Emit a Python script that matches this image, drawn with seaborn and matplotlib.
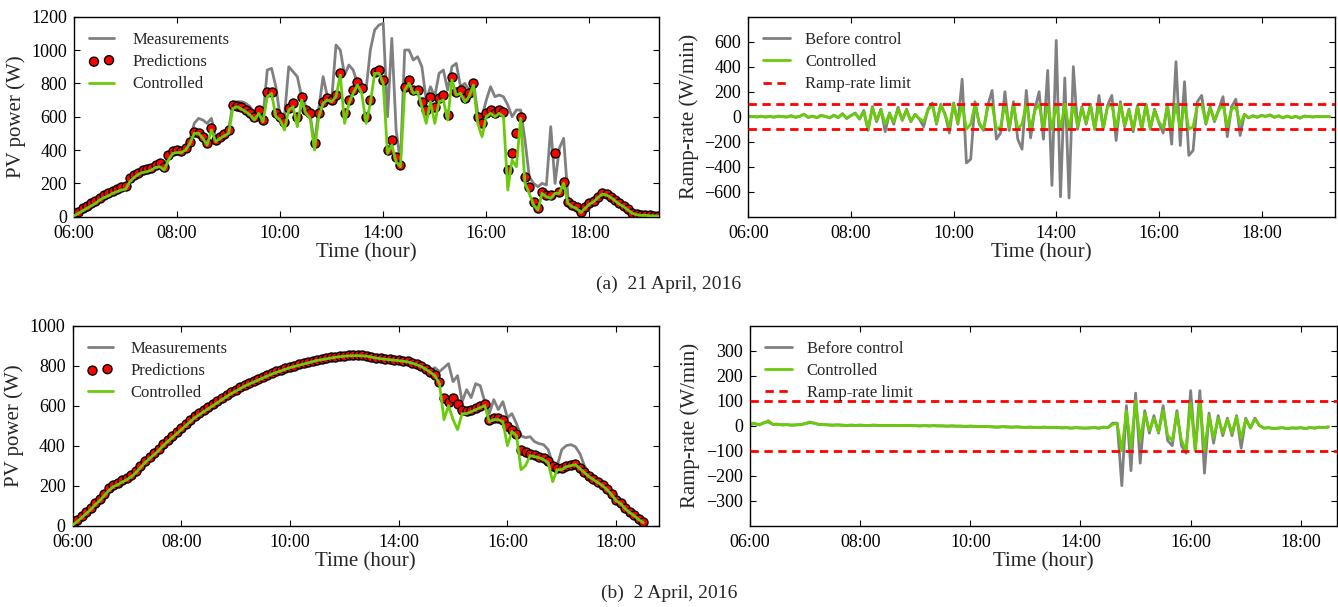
import numpy as np
import matplotlib
matplotlib.use("Agg")
import matplotlib.pyplot as plt
import seaborn as sns

# ---- datos (cada 5 minutos desde las 06:00) ----
t_a = np.arange(0, 681, 5)
t_b = np.arange(0, 631, 5)

tick_pos = [0, 120, 240, 360, 480, 600]
tick_lab = ["06:00", "08:00", "10:00", "14:00", "16:00", "18:00"]

# (a) 21 April
meas_a = [10, 30, 45, 60, 80, 95, 115, 130, 145, 155,
          165, 180, 185, 230, 255, 270, 280, 290, 300, 315,
          320, 300, 375, 395, 400, 400, 415, 460, 560, 590,
          580, 560, 590, 470, 490, 500, 520, 680, 690, 690,
          680, 660, 620, 650, 590, 880, 890, 780, 600, 600,
          900, 870, 840, 720, 660, 610, 430, 650, 840, 720,
          700, 1030, 1000, 850, 910, 880, 800, 790, 760, 1000,
          1120, 1150, 1160, 600, 1070, 520, 320, 1000, 1000, 940,
          960, 900, 700, 780, 720, 860, 880, 760, 900, 920,
          780, 800, 760, 810, 620, 600, 700, 780, 720, 730,
          720, 670, 600, 640, 640, 460, 240, 200, 180, 200,
          190, 540, 200, 410, 470, 120, 70, 60, 30, 60,
          80, 95, 120, 140, 135, 120, 100, 80, 65, 45,
          25, 15, 10, 10, 8, 6, 5]
pred_a = [15, 30, 50, 65, 80, 95, 115, 130, 145, 155,
          165, 180, 185, 230, 250, 265, 280, 285, 295, 310,
          320, 300, 370, 395, 400, 395, 410, 450, 510, 505,
          480, 440, 530, 460, 480, 495, 520, 670, 665, 660,
          640, 620, 600, 640, 580, 750, 750, 620, 600, 570,
          650, 680, 600, 720, 640, 620, 440, 620, 690, 710,
          700, 730, 860, 620, 700, 760, 810, 770, 600, 700,
          870, 880, 820, 400, 460, 360, 310, 780, 820, 760,
          760, 690, 640, 720, 660, 710, 730, 610, 840, 750,
          760, 710, 740, 800, 600, 560, 620, 640, 620, 640,
          630, 280, 380, 500, 600, 240, 180, 90, 50, 150,
          130, 130, 380, 150, 210, 90, 70, 60, 30, 60,
          80, 95, 120, 140, 135, 120, 100, 80, 65, 45,
          25, 15, 10, 10, 8, 6, 5]
ctrl_a = [5, 20, 35, 50, 65, 80, 100, 115, 125, 140,
          150, 160, 165, 210, 235, 255, 265, 270, 280, 295,
          300, 280, 340, 380, 385, 385, 400, 440, 500, 500,
          470, 430, 520, 450, 470, 485, 500, 650, 660, 645,
          630, 610, 580, 620, 570, 720, 740, 600, 580, 520,
          640, 660, 540, 700, 620, 590, 400, 600, 680, 700,
          690, 720, 850, 560, 680, 740, 790, 740, 560, 680,
          860, 860, 800, 380, 430, 330, 300, 760, 800, 740,
          750, 660, 560, 690, 560, 690, 700, 580, 820, 730,
          740, 690, 720, 790, 560, 480, 600, 620, 600, 620,
          600, 160, 340, 300, 590, 200, 140, 70, 40, 140,
          120, 110, 140, 140, 200, 80, 60, 50, 25, 50,
          75, 90, 115, 135, 130, 115, 95, 75, 60, 40,
          20, 12, 8, 8, 6, 5, 3]
ramp_before_a = [0, 3, -2, 4, -3, 2, -4, 5, 0, -3,
                 8, -5, 3, 20, -6, 5, -8, 10, 3, -10,
                 12, -8, 25, -15, 10, 30, -20, 50, -110, 80,
                 -40, 60, -120, 30, -60, 75, -30, 60, -40, 20,
                 -20, -80, 60, 110, -60, 100, 20, -130, 110, -60,
                 300, -370, -340, 120, -60, -110, 90, 210, -180, -130,
                 200, -110, 120, -180, -260, 210, -170, 60, 200, -180,
                 370, -550, 610, -640, 310, -650, 400, -100, 80, -60,
                 100, -100, 170, -100, 90, 170, -190, 120, -80, 60,
                 -120, 90, -100, 100, -100, 60, -50, -130, 100, -220,
                 440, -230, 280, -310, -270, 120, 170, -60, 80, -40,
                 60, 160, -160, 80, 140, -150, 20, -10, 8, -5,
                 10, 3, 15, -5, 8, -10, 5, -8, 3, -12,
                 5, 2, -3, 2, 0, 1, 0]
ramp_ctrl_a = [0, 2, -2, 3, -2, 2, -3, 4, 0, -2,
               6, -4, 3, 18, -5, 4, -6, 8, 2, -8,
               10, -6, 20, -12, 8, 25, -15, 40, -100, 70,
               -30, 55, -60, 25, -40, 60, -25, 50, -35, 15,
               -15, -40, 50, 100, -50, 90, 15, -80, 100, -50,
               100, -100, -60, 100, -50, -100, 80, 100, -100, -80,
               100, -90, 100, -100, -60, 100, -100, 50, 100, -100,
               100, -100, 100, -100, 100, -100, 100, -80, 70, -50,
               90, -100, 100, -90, 80, 100, -100, 100, -70, 50,
               -100, 80, -100, 100, -90, 50, -40, -90, 80, -100,
               100, -100, 100, -100, -80, 90, 100, -50, 70, -30,
               50, 100, -80, 60, 80, -60, 15, -8, 6, -4,
               8, 2, 12, -4, 6, -8, 4, -6, 2, -10,
               4, 2, -2, 1, 0, 1, 0]

# (b) 2 April
pred_b = [10, 30, 50, 70, 90, 115, 135, 160, 190, 205,
          215, 228, 240, 255, 275, 300, 325, 345, 365, 385,
          410, 430, 450, 470, 490, 510, 530, 550, 565, 580,
          595, 610, 625, 640, 655, 668, 680, 692, 705, 715,
          725, 735, 745, 755, 765, 772, 780, 788, 795, 800,
          806, 812, 818, 824, 830, 834, 838, 842, 845, 848,
          850, 852, 853, 852, 852, 850, 845, 840, 838, 835,
          833, 830, 828, 825, 822, 815, 808, 798, 785, 770,
          755, 720, 640, 620, 640, 610, 580, 575, 580, 590,
          600, 610, 530, 540, 540, 530, 500, 480, 460, 380,
          370, 360, 355, 345, 340, 325, 300, 290, 290, 300,
          305, 310, 290, 270, 250, 235, 220, 205, 185, 160,
          130, 115, 90, 70, 55, 35, 20]
meas_b = [10, 30, 50, 70, 90, 115, 135, 160, 190, 205,
          215, 228, 240, 255, 275, 300, 325, 345, 365, 385,
          410, 430, 450, 470, 490, 510, 530, 550, 565, 580,
          595, 610, 625, 640, 655, 668, 680, 692, 705, 715,
          725, 735, 745, 755, 765, 772, 780, 788, 795, 800,
          806, 812, 818, 824, 830, 834, 838, 842, 845, 848,
          850, 852, 853, 852, 852, 850, 845, 840, 838, 835,
          833, 830, 828, 825, 822, 815, 808, 798, 785, 770,
          790, 770, 790, 810, 720, 750, 620, 680, 640, 710,
          700, 620, 560, 630, 580, 620, 540, 560, 510, 450,
          440, 445, 420, 410, 405, 380, 310, 300, 380, 400,
          405, 395, 360, 300, 260, 240, 220, 205, 185, 160,
          130, 115, 90, 70, 55, 35, 20]
ctrl_b = [3, 20, 40, 60, 80, 105, 125, 150, 175, 195,
          205, 218, 230, 245, 265, 290, 315, 335, 355, 375,
          400, 420, 440, 460, 480, 500, 520, 540, 555, 570,
          585, 600, 615, 630, 645, 660, 672, 685, 698, 708,
          718, 728, 738, 748, 758, 766, 774, 782, 790, 796,
          802, 808, 814, 820, 826, 830, 834, 838, 842, 845,
          847, 849, 850, 850, 849, 847, 843, 838, 835, 832,
          830, 827, 825, 822, 819, 812, 805, 795, 782, 766,
          750, 710, 530, 600, 530, 480, 560, 560, 570, 580,
          590, 600, 520, 530, 530, 520, 400, 470, 450, 280,
          300, 350, 345, 340, 330, 315, 220, 280, 280, 295,
          300, 305, 285, 265, 245, 230, 215, 200, 180, 155,
          125, 110, 85, 65, 50, 30, 15]
ramp_before_b = [5, 8, 3, 12, 15, 5, 6, 3, 4, 2,
                 3, 4, 8, 12, 10, 5, 4, 3, 2, 3,
                 2, 1, 2, 1, 2, 1, 1, 2, 1, 0,
                 1, 1, 0, 1, 0, 1, 0, -1, 0, -1,
                 0, -1, -1, -2, -1, -2, -2, -3, -2, -3,
                 -4, -3, -4, -5, -6, -4, -5, -6, -5, -6,
                 -7, -6, -7, -8, -6, -7, -8, -7, -9, -8,
                 -10, -8, -9, -10, -9, -8, -10, -6, -8, 10,
                 10, -240, 80, -180, 130, -150, 60, -30, 40, -30,
                 80, -60, -80, 60, -80, -110, 140, -100, 140, -190,
                 50, -70, 40, -40, 30, -40, 40, -90, 30, -10,
                 30, 0, -10, -8, -12, -10, -8, -12, -9, -10,
                 -8, -12, -7, -10, -6, -8, -5]
ramp_ctrl_b = [5, 10, 3, 10, 20, 5, 6, 3, 4, 2,
               3, 4, 8, 15, 10, 5, 4, 3, 2, 3,
               2, 1, 2, 1, 2, 1, 1, 2, 1, 0,
               1, 1, 0, 1, 0, 1, 0, -1, 0, -1,
               0, -1, -1, -2, -1, -2, -2, -3, -2, -3,
               -4, -3, -4, -5, -6, -4, -5, -6, -5, -6,
               -7, -6, -7, -8, -6, -7, -8, -7, -9, -8,
               -10, -8, -9, -10, -9, -8, -10, -6, -8, 5,
               8, -100, 60, -90, 100, -60, 50, -20, 30, -25,
               60, -40, -60, 50, -60, -100, 90, -100, 100, -100,
               40, -50, 30, -30, 25, -30, 35, -50, 25, -8,
               25, 0, -10, -8, -12, -10, -8, -12, -9, -10,
               -8, -12, -7, -10, -6, -8, -5]

limite = 100

# ---- estilo ----
sns.set_style("ticks")
plt.rcParams['font.family'] = ['Liberation Serif', 'DejaVu Serif']
plt.rcParams.update({
    'xtick.direction': 'in', 'ytick.direction': 'in',
    'xtick.top': True, 'ytick.right': True,
    'xtick.major.size': 4.5, 'ytick.major.size': 4.5,
    'axes.edgecolor': 'black', 'axes.linewidth': 1.0,
    'xtick.color': 'black', 'ytick.color': 'black',
})

GRIS = '#808080'
VERDE = '#6ACB0A'

fig = plt.figure(figsize=(13.38, 6.07), dpi=100)
ax1 = fig.add_axes([0.0553, 0.643, 0.4372, 0.3295])
ax2 = fig.add_axes([0.5593, 0.643, 0.4385, 0.3295])
ax3 = fig.add_axes([0.0542, 0.134, 0.4381, 0.3295])
ax4 = fig.add_axes([0.5605, 0.134, 0.4385, 0.3295])


def panel_potencia(ax, t, meas, pred, ctrl, ymax, xmax):
    sns.lineplot(x=t, y=meas, ax=ax, color=GRIS, lw=2, label='Measurements', zorder=1)
    sns.scatterplot(x=t, y=pred, ax=ax, color='red', edgecolor='black', linewidth=1,
                    s=42, label='Predictions', zorder=2)
    sns.lineplot(x=t, y=ctrl, ax=ax, color=VERDE, lw=2, label='Controlled', zorder=3)
    ax.set_xlim(0, xmax)
    ax.set_ylim(0, ymax)
    ax.set_yticks(np.arange(0, ymax + 1, 200))
    ax.set_ylabel('PV power (W)', fontsize=15)
    ax.legend(loc='upper left', frameon=False, fontsize=12, handlelength=1.5,
              handletextpad=1.1, labelspacing=0.38, scatterpoints=2,
              borderaxespad=0.5, borderpad=0.4)


def panel_rampa(ax, t, before, ctrl, ylim, yticks, xmax):
    sns.lineplot(x=t, y=before, ax=ax, color=GRIS, lw=2, label='Before control', zorder=1)
    sns.lineplot(x=t, y=ctrl, ax=ax, color=VERDE, lw=2, label='Controlled', zorder=2)
    ax.axhline(limite, color='red', ls='--', lw=2, dashes=(3, 2), label='Ramp-rate limit', zorder=3)
    ax.axhline(-limite, color='red', ls='--', lw=2, dashes=(3, 2), zorder=3)
    ax.set_xlim(0, xmax)
    ax.set_ylim(-ylim, ylim)
    ax.set_yticks(yticks)
    ax.set_ylabel('Ramp-rate (W/min)', fontsize=15)
    ax.legend(loc='upper left', frameon=False, fontsize=12, handlelength=1.6,
              handletextpad=0.9, labelspacing=0.38,
              borderaxespad=0.5, borderpad=0.4)


panel_potencia(ax1, t_a, meas_a, pred_a, ctrl_a, 1200, 681)
panel_rampa(ax2, t_a, ramp_before_a, ramp_ctrl_a, 800, np.arange(-600, 601, 200), 686)
panel_potencia(ax3, t_b, meas_b, pred_b, ctrl_b, 1000, 647)
panel_rampa(ax4, t_b, ramp_before_b, ramp_ctrl_b, 400, np.arange(-300, 301, 100), 639)

for ax in [ax1, ax2, ax3, ax4]:
    ax.set_xticks(tick_pos)
    ax.set_xticklabels(tick_lab)
    ax.tick_params(labelsize=13)
    ax.tick_params(axis='x', pad=6)
    ax.tick_params(axis='y', pad=5)
    ax.set_xlabel('Time (hour)', fontsize=15, labelpad=1)

fig.text(0.5, 0.531, '(a)  21 April, 2016', ha='center', va='center', fontsize=14)
fig.text(0.5, 0.023, '(b)  2 April, 2016', ha='center', va='center', fontsize=14)

fig.savefig('out.png', dpi=100)
